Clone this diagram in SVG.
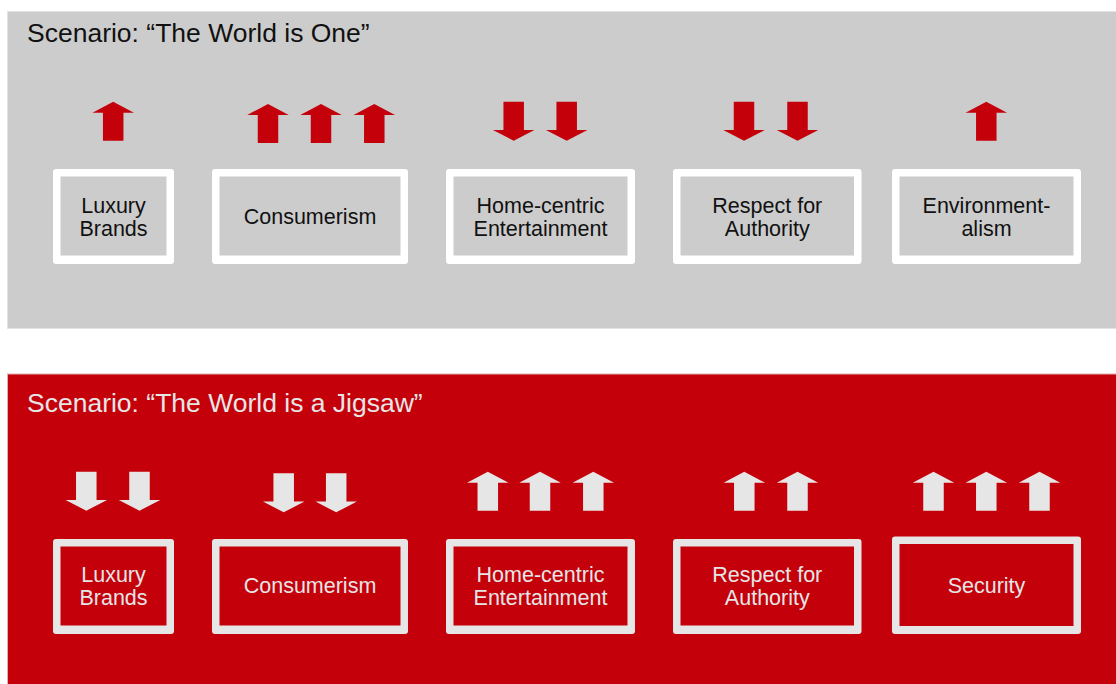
<svg xmlns="http://www.w3.org/2000/svg" width="1116" height="684" viewBox="0 0 1116 684">
  <style>
    .title { font-family: "Liberation Sans", Arial, sans-serif; font-size: 26.5px; }
    .lbl { font-family: "Liberation Sans", Arial, sans-serif; font-size: 21.5px; text-anchor: middle; }
    .dark { fill: #111111; }
    .light { fill: #e6e6e6; }
    .frame-w { fill: #ffffff; }
    .frame-l { fill: #e6e6e6; }
    .in-grey { fill: #cccccc; }
    .in-red { fill: #c4000b; }
    .arr-red { fill: #c4000b; }
    .arr-light { fill: #e6e6e6; }
  </style>
  <defs>
    <!-- block arrows: origin at the top centre -->
    <path id="up" d="M0,0 L20.75,11 L10.25,11 L10.25,39 L-10.25,39 L-10.25,11 L-20.75,11 Z"/>
    <path id="down" d="M-10.25,0 L10.25,0 L10.25,28.3 L20.75,28.3 L0,39 L-20.75,28.3 L-10.25,28.3 Z"/>
  </defs>

  <rect width="1116" height="684" fill="#ffffff"/>

  <!-- scenario 1 panel -->
  <g id="panel-one">
    <rect x="7.5" y="11.5" width="1110" height="317" fill="#cccccc" stroke="#e3e3e3" stroke-width="1"/>
    <text class="title dark" x="27" y="41.5">Scenario: “The World is One”</text>
  </g>

  <!-- scenario 2 panel -->
  <g id="panel-jigsaw">
    <rect x="7.5" y="374" width="1110" height="312" fill="#c4000b" stroke="#e0b0b0" stroke-width="1"/>
    <text class="title light" x="27" y="411.5">Scenario: “The World is a Jigsaw”</text>
  </g>

  <!-- trend arrows, scenario 1 -->
  <g id="trends-one" class="arr-red">
    <use href="#up" x="113.2" y="101.7"/>
    <use href="#up" x="268" y="104"/>
    <use href="#up" x="321" y="104"/>
    <use href="#up" x="374.3" y="104"/>
    <use href="#down" x="513.7" y="101.7"/>
    <use href="#down" x="566.7" y="101.7"/>
    <use href="#down" x="744" y="101.7"/>
    <use href="#down" x="797.5" y="101.7"/>
    <use href="#up" x="986.3" y="101.7"/>
  </g>

  <!-- trend arrows, scenario 2 -->
  <g id="trends-jigsaw" class="arr-light">
    <use href="#down" x="86.3" y="471.7"/>
    <use href="#down" x="139.5" y="471.7"/>
    <use href="#down" x="283.7" y="473.3"/>
    <use href="#down" x="336.2" y="473.3"/>
    <use href="#up" x="487.8" y="471.7"/>
    <use href="#up" x="540" y="471.7"/>
    <use href="#up" x="593.3" y="471.7"/>
    <use href="#up" x="744.3" y="471.7"/>
    <use href="#up" x="797.5" y="471.7"/>
    <use href="#up" x="933.5" y="471.7"/>
    <use href="#up" x="986.3" y="471.7"/>
    <use href="#up" x="1039.5" y="471.7"/>
  </g>

  <!-- scenario 1 boxes -->
  <g id="one-luxury">
    <rect class="frame-w" x="53" y="169" width="121" height="95" rx="3"/>
    <rect class="in-grey" x="60.5" y="176.5" width="106" height="79"/>
    <text class="lbl dark" x="113.5" y="212.5">Luxury</text>
    <text class="lbl dark" x="113.5" y="235.5">Brands</text>
  </g>
  <g id="one-consumerism">
    <rect class="frame-w" x="212" y="169" width="196" height="95" rx="3"/>
    <rect class="in-grey" x="219.5" y="176.5" width="181" height="79"/>
    <text class="lbl dark" x="310" y="224">Consumerism</text>
  </g>
  <g id="one-home">
    <rect class="frame-w" x="446" y="169" width="189" height="95" rx="3"/>
    <rect class="in-grey" x="453.5" y="176.5" width="174" height="79"/>
    <text class="lbl dark" x="540.5" y="212.5">Home-centric</text>
    <text class="lbl dark" x="540.5" y="235.5">Entertainment</text>
  </g>
  <g id="one-respect">
    <rect class="frame-w" x="673" y="169" width="188.5" height="95" rx="3"/>
    <rect class="in-grey" x="680.5" y="176.5" width="173.5" height="79"/>
    <text class="lbl dark" x="767.3" y="212.5">Respect for</text>
    <text class="lbl dark" x="767.3" y="235.5">Authority</text>
  </g>
  <g id="one-environment">
    <rect class="frame-w" x="892" y="169" width="189" height="95" rx="3"/>
    <rect class="in-grey" x="899.5" y="176.5" width="174" height="79"/>
    <text class="lbl dark" x="986.5" y="212.5">Environment-</text>
    <text class="lbl dark" x="986.5" y="235.5">alism</text>
  </g>

  <!-- scenario 2 boxes -->
  <g id="jigsaw-luxury">
    <rect class="frame-l" x="53" y="539" width="121" height="95" rx="3"/>
    <rect class="in-red" x="60.5" y="546.5" width="106" height="79"/>
    <text class="lbl light" x="113.5" y="581.5">Luxury</text>
    <text class="lbl light" x="113.5" y="605">Brands</text>
  </g>
  <g id="jigsaw-consumerism">
    <rect class="frame-l" x="212" y="539" width="196" height="95" rx="3"/>
    <rect class="in-red" x="219.5" y="546.5" width="181" height="79"/>
    <text class="lbl light" x="310" y="593.3">Consumerism</text>
  </g>
  <g id="jigsaw-home">
    <rect class="frame-l" x="446" y="539" width="189" height="95" rx="3"/>
    <rect class="in-red" x="453.5" y="546.5" width="174" height="79"/>
    <text class="lbl light" x="540.5" y="581.5">Home-centric</text>
    <text class="lbl light" x="540.5" y="605">Entertainment</text>
  </g>
  <g id="jigsaw-respect">
    <rect class="frame-l" x="673" y="539" width="188.5" height="95" rx="3"/>
    <rect class="in-red" x="680.5" y="546.5" width="173.5" height="79"/>
    <text class="lbl light" x="767.3" y="581.5">Respect for</text>
    <text class="lbl light" x="767.3" y="605">Authority</text>
  </g>
  <g id="jigsaw-security">
    <rect class="frame-l" x="892" y="536.5" width="189" height="97.5" rx="3"/>
    <rect class="in-red" x="899.5" y="544" width="174" height="82"/>
    <text class="lbl light" x="986.5" y="592.7">Security</text>
  </g>
</svg>
